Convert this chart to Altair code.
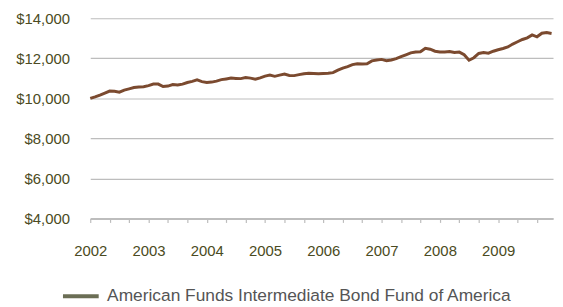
import altair as alt
import pandas as pd

# Monthly values, Jan 2002 .. Dec 2009 (growth of $10,000)
start_year = 2002
values = [
    10000, 10075, 10164, 10264, 10363, 10353, 10308, 10413, 10473, 10537, 10562, 10577,
    10637, 10711, 10711, 10587, 10612, 10687, 10662, 10711, 10791, 10846, 10920, 10836,
    10796, 10811, 10861, 10935, 10970, 11010, 10995, 10985, 11035, 11010, 10960, 11020,
    11109, 11159, 11099, 11159, 11209, 11144, 11134, 11184, 11229, 11254, 11244, 11229,
    11244, 11254, 11284, 11408, 11507, 11587, 11682, 11731, 11716, 11731, 11871, 11915,
    11945, 11881, 11915, 11985, 12080, 12174, 12269, 12318, 12328, 12502, 12453, 12353,
    12318, 12318, 12338, 12289, 12308, 12179, 11905, 12030, 12244, 12284, 12254, 12353,
    12428, 12488, 12567, 12711, 12826, 12940, 13020, 13169, 13075, 13254, 13284, 13239,
]
series_name = "American Funds Intermediate Bond Fund of America"
y_ticks = [4000, 6000, 8000, 10000, 12000, 14000]
x_tick_months = list(range(0, 96, 4))

df = pd.DataFrame({
    "m": list(range(len(values))),
    "value": values,
    "series": [series_name] * len(values),
})

label_color = "#4b4b22"
grid_color = "#bdbdbd"

x_enc = alt.X("m:Q",
              scale=alt.Scale(domain=[0, 95.3], nice=False, zero=False),
              axis=alt.Axis(values=x_tick_months,
                            labelExpr=f"datum.value % 12 == 0 ? toString({start_year} + datum.value / 12) : ''",
                            title=None, grid=False, domainColor=grid_color, domainWidth=2,
                            tickColor=grid_color, tickSize=4, tickWidth=1.2,
                            labelPadding=21, labelFontSize=15, labelColor=label_color,
                            labelFont="Liberation Sans", labelAlign="center"))
y_enc = alt.Y("value:Q",
              scale=alt.Scale(domain=[4000, 14000], nice=False, zero=False),
              axis=alt.Axis(values=y_ticks, format="$,.0f", title=None, domain=False, ticks=False,
                            grid=True, gridColor=grid_color, gridWidth=1.2,
                            labelPadding=21, labelFontSize=15, labelColor=label_color,
                            labelFont="Liberation Sans"))

line = alt.Chart(df).mark_line(strokeWidth=3, color="#7b4a2f").encode(x=x_enc, y=y_enc)

legend_layer = alt.Chart(df).mark_line(strokeWidth=3, strokeOpacity=0).encode(
    x=x_enc, y=y_enc,
    stroke=alt.Stroke("series:N",
                      scale=alt.Scale(range=["#6b6e55"]),
                      legend=alt.Legend(title=None, orient="none", legendX=-30, legendY=260,
                                        symbolType="stroke", symbolSize=1300, symbolStrokeWidth=4,
                                        symbolOpacity=1, labelFontSize=17.5,
                                        labelColor="#555555", labelFont="Liberation Sans",
                                        labelOffset=6, labelLimit=520)),
)

chart = alt.layer(line, legend_layer).properties(
    width=467, height=202,
    autosize=alt.AutoSizeParams(type="none"),
    padding={"left": 83, "top": 9, "right": 2, "bottom": 86},
).configure_view(stroke=None)

chart.save("out.html", embed_options={"renderer": "svg", "actions": False})
